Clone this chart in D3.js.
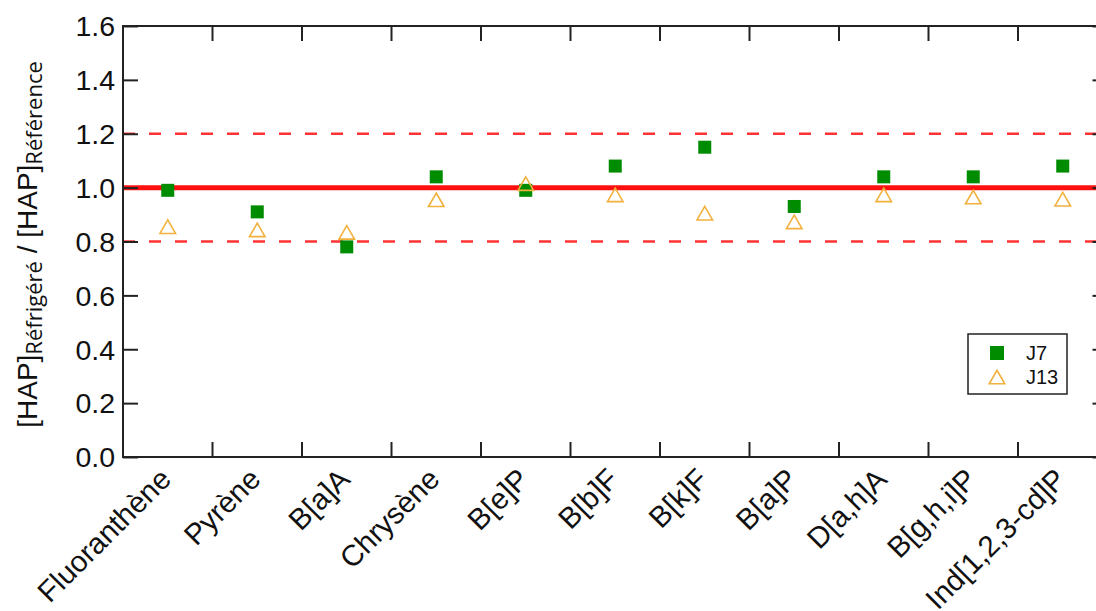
<!DOCTYPE html>
<html lang="fr">
<head>
    <meta charset="UTF-8">
    <title>HAP réfrigéré / référence</title>
    <script src="https://d3js.org/d3.v7.min.js"></script>
    <style>
        body { margin: 0; background: #fff; }
        svg { display: block; overflow: hidden; }
        .tick-label { font-family: "Liberation Sans", Arial, sans-serif; font-size: 28.5px; fill: #111; }
        .x-label { font-size: 29.5px; }
        .frame line { stroke: #222; stroke-width: 2; fill: none; }
    </style>
</head>
<body>
    <div id="chart"></div>
    <script>
        var categories = ["Fluoranthène", "Pyrène", "B[a]A", "Chrysène", "B[e]P", "B[b]F",
                          "B[k]F", "B[a]P", "D[a,h]A", "B[g,h,i]P", "Ind[1,2,3-cd]P"];
        var j7  = [0.99, 0.91, 0.78, 1.04, 0.99, 1.08, 1.15, 0.93, 1.04, 1.04, 1.08];
        var j13 = [0.855, 0.843, 0.834, 0.955, 1.015, 0.973, 0.905, 0.873, 0.973, 0.965, 0.957];
        var yTicks = [0, 0.2, 0.4, 0.6, 0.8, 1.0, 1.2, 1.4, 1.6];
        var refLine = 1.0;
        var limits = [0.8, 1.2];

        var W = 1096, H = 611;
        var plotL = 123, plotR = 1107.5, plotT = 26, plotB = 457;
        var green = "#008c00", orange = "#f2b03c", red = "#ff1010";

        var svg = d3.select("#chart").append("svg")
            .attr("width", W)
            .attr("height", H);

        var x = d3.scaleBand().domain(categories).range([plotL, plotR]).padding(0);
        var y = d3.scaleLinear().domain([0, 1.6]).range([plotB, plotT]);

        // reference lines
        svg.selectAll(".limit")
            .data(limits)
            .enter()
            .append("line")
            .attr("x1", plotL).attr("x2", plotR)
            .attr("y1", function (d) { return y(d); })
            .attr("y2", function (d) { return y(d); })
            .attr("stroke", "#ff3333")
            .attr("stroke-width", 2.5)
            .attr("stroke-dasharray", "12,14");

        svg.append("line")
            .attr("x1", plotL).attr("x2", plotR)
            .attr("y1", y(refLine)).attr("y2", y(refLine))
            .attr("stroke", red)
            .attr("stroke-width", 5);

        // frame with inward ticks
        var frame = svg.append("g").attr("class", "frame");
        frame.append("rect")
            .attr("x", plotL).attr("y", plotT)
            .attr("width", plotR - plotL).attr("height", plotB - plotT)
            .attr("fill", "none").attr("stroke", "#222").attr("stroke-width", 2);

        var bounds = categories.slice(1).map(function (c) { return x(c); });

        frame.selectAll(".bt")
            .data(bounds)
            .enter()
            .append("line")
            .attr("x1", function (d) { return d; }).attr("x2", function (d) { return d; })
            .attr("y1", plotB).attr("y2", plotB - 15);

        frame.selectAll(".tt")
            .data(bounds)
            .enter()
            .append("line")
            .attr("x1", function (d) { return d; }).attr("x2", function (d) { return d; })
            .attr("y1", plotT).attr("y2", plotT + 15);

        var yAxisL = frame.append("g")
            .attr("transform", "translate(" + plotL + ",0)")
            .call(d3.axisRight(y).tickValues(yTicks).tickSize(15).tickFormat("").tickSizeOuter(0));
        yAxisL.select(".domain").remove();
        yAxisL.selectAll(".tick line").attr("stroke", "#222").attr("stroke-width", 2);

        var yAxisR = frame.append("g")
            .attr("transform", "translate(" + plotR + ",0)")
            .call(d3.axisLeft(y).tickValues(yTicks).tickSize(15).tickFormat("").tickSizeOuter(0));
        yAxisR.select(".domain").remove();
        yAxisR.selectAll(".tick line").attr("stroke", "#222").attr("stroke-width", 2);

        // y tick labels
        svg.selectAll(".ylab")
            .data(yTicks)
            .enter()
            .append("text")
            .attr("class", "tick-label")
            .attr("x", plotL - 8)
            .attr("y", function (d) { return y(d); })
            .attr("dy", "0.36em")
            .attr("text-anchor", "end")
            .text(function (d) { return d3.format(".1f")(d); });

        // x tick labels
        svg.selectAll(".xlab")
            .data(categories)
            .enter()
            .append("text")
            .attr("class", "tick-label x-label")
            .attr("text-anchor", "end")
            .attr("transform", function (d) {
                return "translate(" + (x(d) + x.bandwidth() / 2 + 5) + "," + (plotB + 24) + ") rotate(-45)";
            })
            .text(function (d) { return d; });

        // y axis title
        var title = svg.append("text")
            .attr("transform", "translate(37," + ((plotT + plotB) / 2 + 3) + ") rotate(-90)")
            .attr("text-anchor", "middle")
            .style("font-family", "'Liberation Sans', Arial, sans-serif")
            .style("font-size", "28px")
            .style("fill", "#111");
        title.append("tspan").text("[HAP]");
        title.append("tspan").attr("dy", 5).style("font-size", "22px")
            .style("font-family", "'Open Sans', sans-serif").text("Réfrigéré");
        title.append("tspan").attr("dy", -5).text(" / [HAP]");
        title.append("tspan").attr("dy", 5).style("font-size", "22px")
            .style("font-family", "'Open Sans', sans-serif").text("Référence");

        // data points
        var sq = 13;
        svg.selectAll(".j7")
            .data(j7)
            .enter()
            .append("rect")
            .attr("x", function (d, i) { return x(categories[i]) + x.bandwidth() / 2 - sq / 2; })
            .attr("y", function (d) { return y(d) - sq / 2; })
            .attr("width", sq).attr("height", sq)
            .attr("fill", green);

        var triSize = 105;
        var triH = Math.sqrt(triSize * 4 / Math.sqrt(3)) * Math.sqrt(3) / 2;
        var tri = d3.symbol().type(d3.symbolTriangle).size(triSize);
        svg.selectAll(".j13")
            .data(j13)
            .enter()
            .append("path")
            .attr("d", tri)
            .attr("transform", function (d, i) {
                return "translate(" + (x(categories[i]) + x.bandwidth() / 2) + "," + (y(d) + triH / 6) + ")";
            })
            .attr("fill", "none")
            .attr("stroke", orange)
            .attr("stroke-width", 1.6);

        // legend
        var legend = svg.append("g").attr("transform", "translate(968,334)");
        legend.append("rect")
            .attr("width", 99).attr("height", 60)
            .attr("fill", "#fff").attr("stroke", "#222").attr("stroke-width", 1.5);
        legend.append("rect")
            .attr("x", 29 - 7).attr("y", 19 - 7).attr("width", 14).attr("height", 14)
            .attr("fill", green);
        legend.append("path")
            .attr("d", tri)
            .attr("transform", "translate(29," + (43 + triH / 6) + ")")
            .attr("fill", "none").attr("stroke", orange).attr("stroke-width", 1.6);
        legend.selectAll(".lt")
            .data(["J7", "J13"])
            .enter()
            .append("text")
            .attr("x", 58)
            .attr("y", function (d, i) { return 26 + i * 24; })
            .style("font-family", "'Liberation Sans', Arial, sans-serif")
            .style("font-size", "20px")
            .style("fill", "#111")
            .text(function (d) { return d; });
    </script>
</body>
</html>
